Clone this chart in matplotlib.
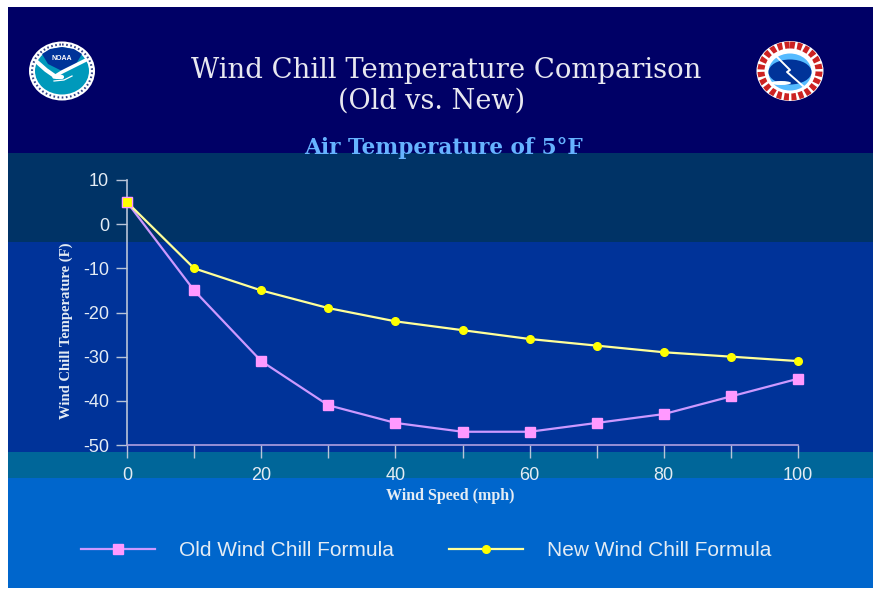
import matplotlib
matplotlib.use("Agg")
import matplotlib.pyplot as plt
from matplotlib.patches import Rectangle, Polygon, Ellipse

W, H = 876, 589

wind_speed = [0, 10, 20, 30, 40, 50, 60, 70, 80, 90, 100]
old_chill = [5, -15, -31, -41, -45, -47, -47, -45, -43, -39, -35]
new_chill = [5, -10, -15, -19, -22, -24, -26, -27.5, -29, -30, -31]

x_ticks = [0, 20, 40, 60, 80, 100]
y_ticks = [10, 0, -10, -20, -30, -40, -50]

# top, bottom, colour of each background band
bands = [(7, 153, "#000066"), (153, 242, "#003366"), (242, 452, "#003399"),
         (452, 478, "#006699"), (478, 588, "#0066CC")]

SERIF = ["DejaVu Serif", "Liberation Serif"]
TIMES = ["Liberation Serif", "DejaVu Serif"]
SANS = ["Liberation Sans", "DejaVu Sans"]
TEXT = "#E4ECF4"
AXIS = "#B8C4D8"
OLD = "#FF99FF"
NEW = "#FFFF00"

# the original uses a plain hyphen on negative ticks
plt.rcParams["axes.unicode_minus"] = False

fig = plt.figure(figsize=(W / 100, H / 100), dpi=100, facecolor="white")

# background in pixel coordinates
bg = fig.add_axes([0, 0, 1, 1])
bg.set_xlim(0, W)
bg.set_ylim(H, 0)
bg.axis("off")
for top, bottom, color in bands:
    bg.add_patch(Rectangle((8, top), 865, bottom - top, color=color, lw=0))

# NOAA logo
bg.add_patch(Ellipse((62, 71), 66, 59, color="white", lw=0))
bg.add_patch(Ellipse((62, 71), 60, 53, fill=False, ec="#334488", lw=1.5, ls=(0, (0.8, 1.2))))
bg.add_patch(Ellipse((62, 71), 54, 47, color="#0099BB", lw=0))
bg.add_patch(Polygon([(42, 54), (50, 49), (62, 47), (74, 49), (82, 54), (76, 64), (62, 71), (48, 64)],
                     color="#003399", lw=0))
bg.plot([37, 46, 56, 62], [62, 70, 77, 77], color="white", lw=3, solid_capstyle="round")
bg.plot([54, 62, 72, 86], [77, 72, 67, 60], color="white", lw=2.5, solid_capstyle="round")
bg.plot([54, 64, 72], [81, 80, 76], color="white", lw=0.9)
bg.text(62, 59, "NOAA", color="white", fontsize=5, weight="bold", ha="center", va="center", family=SANS)

# NWS logo
bg.add_patch(Ellipse((790, 71), 67, 60, color="white", lw=0))
bg.add_patch(Ellipse((790, 71), 58, 52, fill=False, ec="#CC2222", lw=5, ls=(0, (0.7, 0.35))))
bg.add_patch(Ellipse((790, 72), 47, 41, color="white", lw=0))
bg.add_patch(Ellipse((790, 72), 43, 37, color="#55BBFF", lw=0))
bg.add_patch(Ellipse((790, 72), 43, 25, color="#003399", lw=0))
bg.plot([776, 790, 787, 803], [56, 70, 72, 86], color="white", lw=1.4)
bg.add_patch(Ellipse((781, 83), 20, 4, color="white", lw=0))

bg.text(446, 70, "Wind Chill Temperature Comparison", color="#E8E8F0", fontsize=19.8,
        ha="center", va="center", family=SERIF)
bg.text(432, 101, "(Old vs. New)", color="#E8E8F0", fontsize=19.5,
        ha="center", va="center", family=SERIF)
bg.text(444, 148, "Air Temperature of 5°F", color="#66B3FF", fontsize=15.6, weight="bold",
        ha="center", va="center", family=SERIF)

# plot area, x=0 at 127px, x=100 at 798px, y=10 at 180px, y=-50 at 445px
ax = fig.add_axes([127 / W, 1 - 445 / H, (798 - 127) / W, (445 - 180) / H])
ax.patch.set_alpha(0)
ax.set_xlim(0, 100)
ax.set_ylim(-50, 10)

ax.plot(wind_speed, old_chill, color="#CC99FF", lw=1.6, marker="s", ms=6.5,
        mfc=OLD, mec=OLD, label="Old Wind Chill Formula", clip_on=False, zorder=3)
ax.plot(wind_speed, new_chill, color="#FFFF99", lw=1.6, marker="o", ms=5.5,
        mfc=NEW, mec=NEW, label="New Wind Chill Formula", clip_on=False, zorder=4)
ax.plot(wind_speed[0], new_chill[0], marker="s", ms=6.5, mfc=NEW, mec=OLD, mew=0.8,
        clip_on=False, zorder=5)

for name in ["top", "right"]:
    ax.spines[name].set_visible(False)
ax.spines["left"].set_color(AXIS)
ax.spines["bottom"].set_color("#B0A0E0")
ax.spines["left"].set_linewidth(1.2)
ax.spines["bottom"].set_linewidth(1.2)

ax.set_xticks(range(0, 101, 10))
ax.set_xticklabels([str(v) if v in x_ticks else "" for v in range(0, 101, 10)])
ax.set_yticks(y_ticks)
ax.tick_params(axis="both", color=AXIS, width=1, labelcolor=TEXT, labelsize=13)
for label in ax.get_xticklabels() + ax.get_yticklabels():
    label.set_fontfamily(SANS)
ax.tick_params(axis="x", length=9, pad=7)
ax.tick_params(axis="y", length=8, pad=5)

bg.text(450, 496, "Wind Speed (mph)", color=TEXT, fontsize=11.5, weight="bold",
        ha="center", va="center", family=TIMES)
bg.text(66, 331, "Wind Chill Temperature (F)", color=TEXT, fontsize=10.5, weight="bold",
        rotation=90, ha="center", va="center", family=TIMES)

handles, labels = ax.get_legend_handles_labels()
bg.legend(handles, labels, ncol=2, loc="center", bbox_to_anchor=(426 / W, 1 - 551 / H),
          bbox_transform=fig.transFigure, frameon=False, labelcolor=TEXT,
          prop={"family": SANS, "size": 15}, handlelength=3.55, handletextpad=1.15,
          columnspacing=2.64)

fig.savefig("out.png", dpi=100, facecolor="white")
